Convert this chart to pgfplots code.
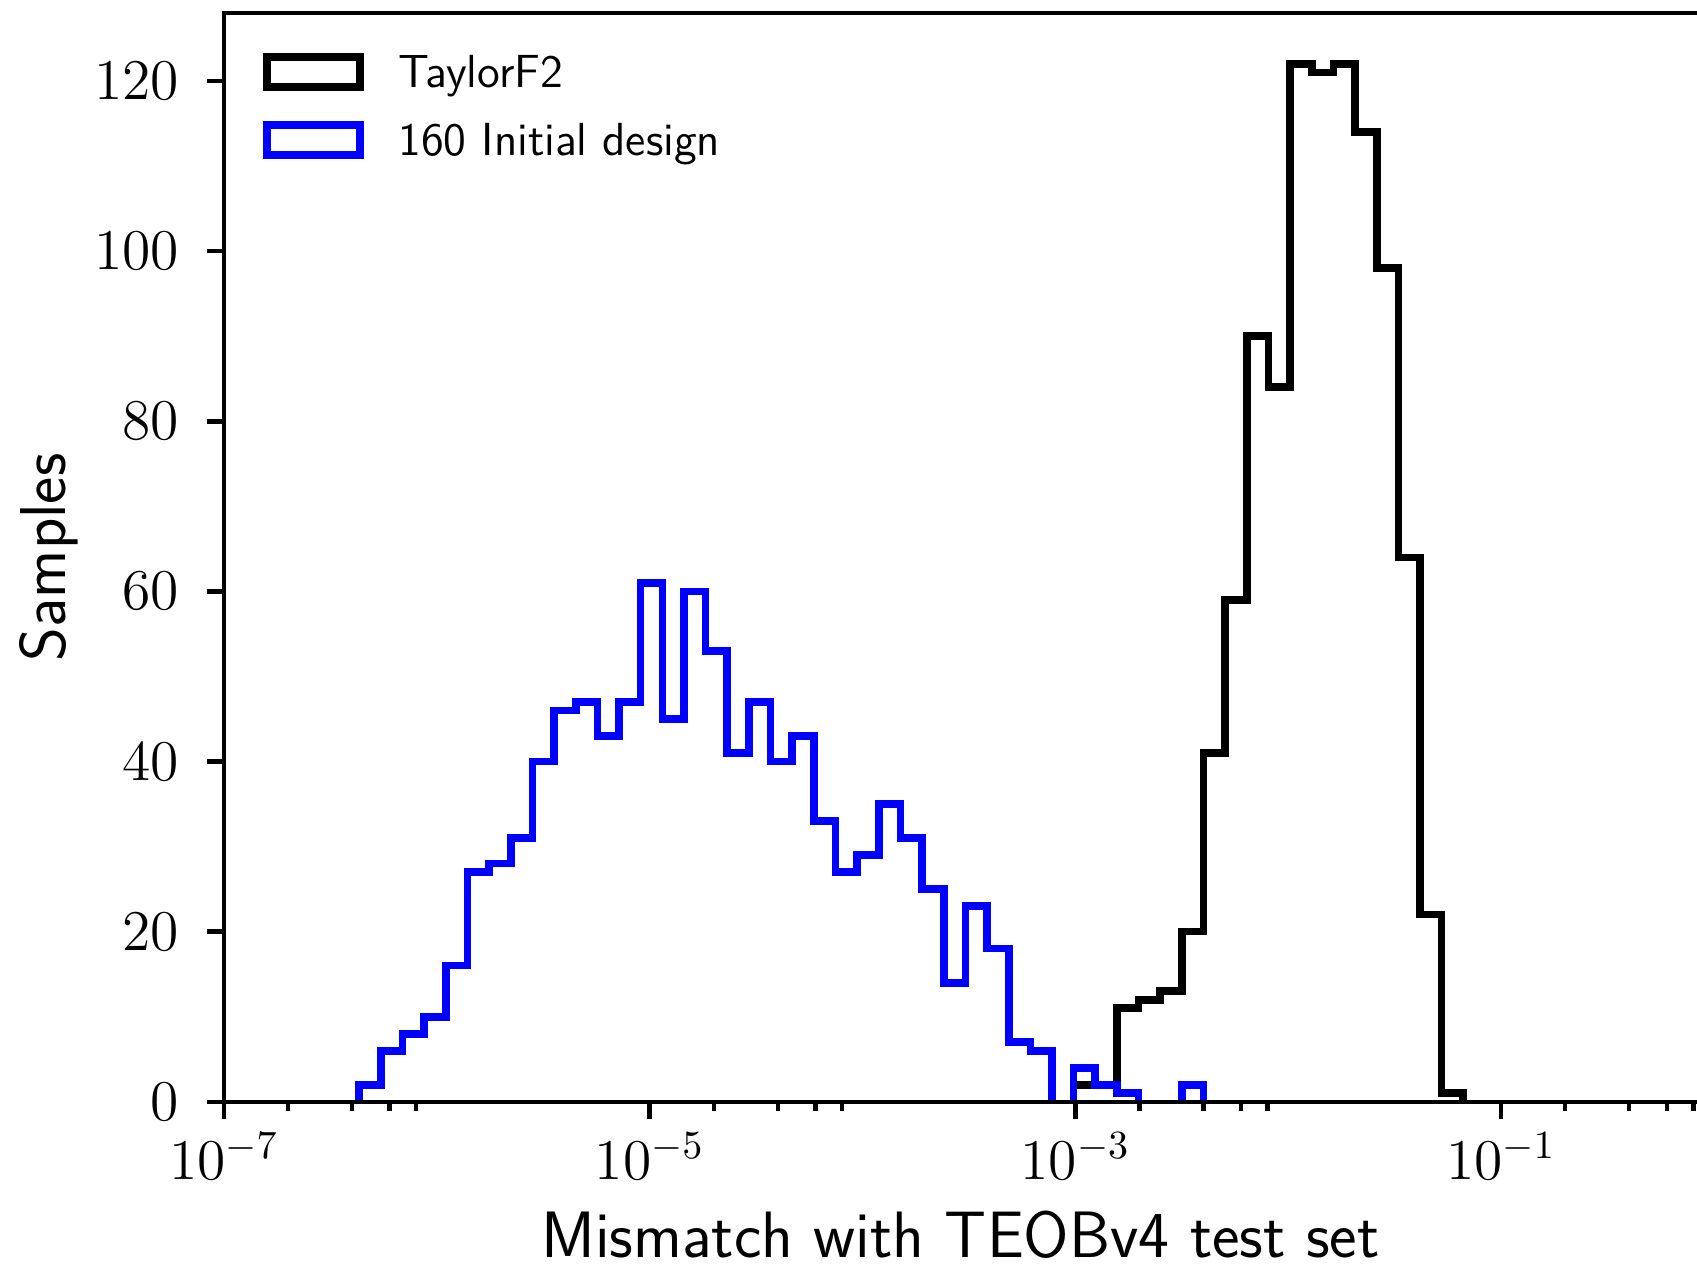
\documentclass[border=0pt]{standalone}
\usepackage{pgfplots}
\pgfplotsset{compat=1.18}
\definecolor{histblue}{RGB}{0,0,255}
\begin{document}
\begin{tikzpicture}
\begin{axis}[
  scale only axis,
  width=368.25pt, height=272.2pt,
  xmode=log,
  xmin=1e-7, xmax=0.832,
  ymin=0, ymax=128,
  axis lines=left,
  axis line style={-, line width=1.1pt},
  axis on top,
  unbounded coords=jump,
  tick align=outside,
  tick style={line width=1.1pt, black},
  major tick length=4.3pt,
  minor tick length=2.4pt,
  xtick={1e-7,1e-5,1e-3,1e-1},
  xticklabels={$10^{-7}$,$10^{-5}$,$10^{-3}$,$10^{-1}$},
  minor xtick={2e-7,4e-7,6e-7,8e-7,2e-5,4e-5,6e-5,8e-5,2e-3,4e-3,6e-3,8e-3,2e-1,4e-1,6e-1,8e-1},
  ytick={0,20,40,60,80,100,120},
  tick label style={font=\fontsize{14.8}{16}\selectfont},
  yticklabel style={xshift=-3.5pt},
  xlabel={Mismatch with TEOBv4 test set},
  ylabel={Samples},
  every axis x label/.style={at={(rel axis cs:0.5,0)}, anchor=base, yshift=-39pt,
    font=\sffamily\fontsize{16.4}{18}\selectfont},
  every axis y label/.style={at={(rel axis cs:0,0.5)}, xshift=-43.8pt, rotate=90, anchor=center,
    font=\sffamily\fontsize{16.2}{18}\selectfont},
  legend cell align=left,
  legend style={draw=none, fill=none, at={(rel axis cs:0,1)}, anchor=north west,
    xshift=9.6pt, yshift=-9.9pt, inner sep=0pt, row sep=5.9pt, column sep=8.6pt,
    font=\sffamily\fontsize{11.6}{13}\selectfont,
    nodes={inner sep=0pt, text height=8.3pt, text depth=2.5pt}},
  legend image code/.code={\draw[#1] (0pt,-2.8pt) rectangle (23.3pt,4.7pt);},
]
\addplot[const plot mark left, black, line width=1.9pt] coordinates {
(9.8107e-4,0) (9.8107e-4,2) (1.2400e-3,2) (1.5672e-3,11) (1.9808e-3,12) (2.5035e-3,13)
(3.1637e-3,20) (3.9985e-3,41) (5.0535e-3,59) (6.3870e-3,90) (8.0724e-3,84)
(1.0202e-2,122) (1.2894e-2,121) (1.6296e-2,122) (2.0596e-2,114) (2.6031e-2,98)
(3.2899e-2,64) (4.1581e-2,22) (5.2554e-2,1) (6.6420e-2,0)
};
\addlegendentry{TaylorF2}
\addplot[const plot mark left, histblue, line width=1.9pt] coordinates {
(4.321e-7,0) (4.321e-7,2) (5.462e-7,6) (6.902e-7,8) (8.724e-7,10)
(1.1026e-6,16) (1.3935e-6,27) (1.7612e-6,28) (2.2258e-6,31) (2.8132e-6,40)
(3.5555e-6,46) (4.4937e-6,47) (5.6794e-6,43) (7.1779e-6,47) (9.0718e-6,61)
(1.1465e-5,45) (1.4491e-5,60) (1.8314e-5,53) (2.3146e-5,41) (2.9254e-5,47)
(3.6973e-5,40) (4.6730e-5,43) (5.9061e-5,33) (7.4645e-5,27) (9.4343e-5,29)
(1.1924e-4,35) (1.5070e-4,31) (1.9047e-4,25) (2.4073e-4,14) (3.0425e-4,23)
(3.8453e-4,18) (4.8600e-4,7) (6.1425e-4,6) (7.7625e-4,0) (8.8e-4,nan)
(9.8107e-4,0) (9.8107e-4,4)
(1.2400e-3,2) (1.5672e-3,1) (1.9808e-3,0) (2.2e-3,nan)
(3.1637e-3,0) (3.1637e-3,2) (3.9985e-3,0)
};
\addlegendentry{160 Initial design}
\coordinate (bbsw) at (rel axis cs:0,0);
\coordinate (bbnw) at (rel axis cs:0,1);
\coordinate (bbne) at (rel axis cs:1,1);
\end{axis}
\draw[line width=1.1pt] ([xshift=-0.55pt]bbnw) -- (bbne);
\pgfresetboundingbox
\path[use as bounding box] ([shift={(-56pt,-41.05pt)}]bbsw) rectangle ([shift={(0pt,3.25pt)}]bbne);
\end{tikzpicture}
\end{document}
